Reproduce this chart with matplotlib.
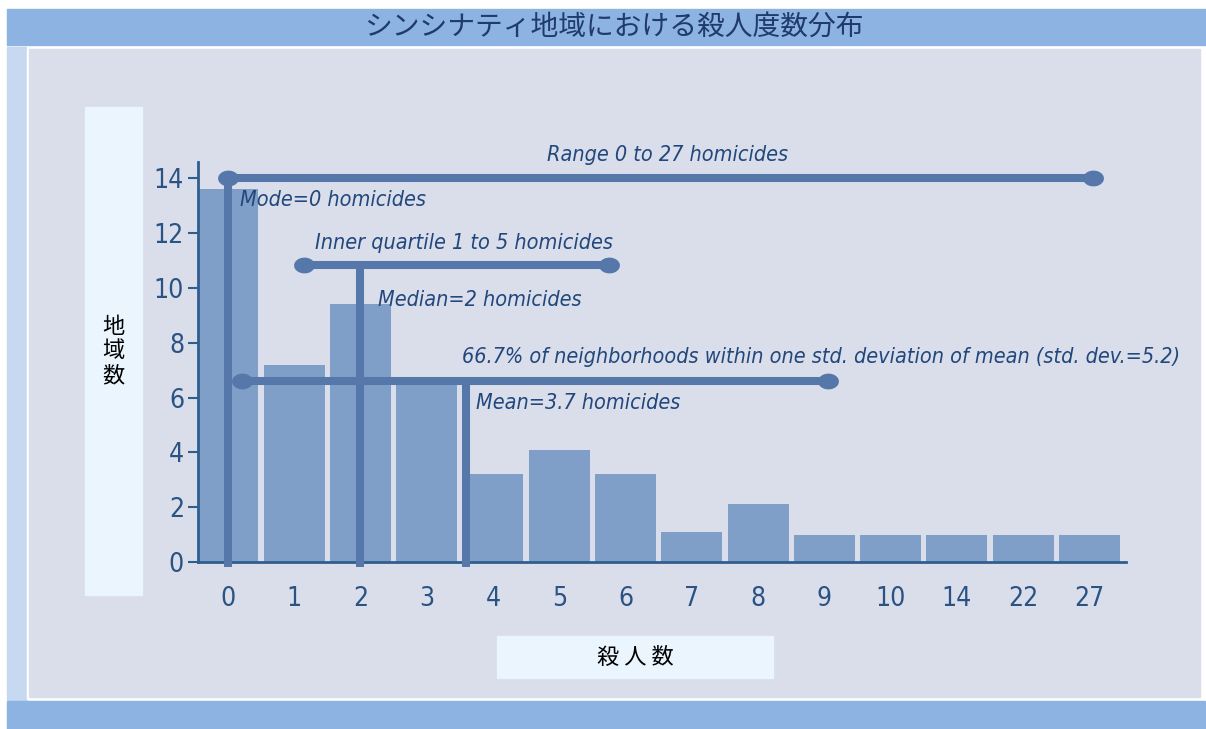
import matplotlib.pyplot as plt
import numpy as np
from matplotlib.patches import Rectangle

plt.rcParams['font.family'] = ['DejaVu Sans Condensed', 'Liberation Sans Narrow', 'DejaVu Sans']
plt.rcParams['font.stretch'] = 'condensed'

# data
homicides = ['0', '1', '2', '3', '4', '5', '6', '7', '8', '9', '10', '14', '22', '27']
neighborhoods = [13.6, 7.2, 9.4, 6.5, 3.2, 4.1, 3.2, 1.1, 2.1, 1.0, 1.0, 1.0, 1.0, 1.0]

# annotation brackets (bar-position units on x)
range_span = [0, 13.05]
range_y = 14
iqr_span = [1.15, 5.75]
iqr_y = 10.85
median_pos = 2
sd_span = [0.22, 9.05]
sd_y = 6.6
mean_pos = 3.6

title = 'シンシナティ地域における殺人度数分布'
W, H = 1206, 729
bar_col = '#809FC8'
line_col = '#5677AA'
txt_col = '#22477C'
band_col = '#8DB3E2'
cjk = ['Noto Sans CJK JP', 'DejaVu Sans']

fig = plt.figure(figsize=(W / 100, H / 100), dpi=100)


def box(x0, y0, x1, y1, color):
    fig.add_artist(Rectangle((x0 / W, 1 - y1 / H), (x1 - x0) / W, (y1 - y0) / H,
                             transform=fig.transFigure, color=color, zorder=0))


# frame pieces
box(7, 9, W, 45, band_col)
box(7, 47, 27, 700, '#C6D9F1')
box(27, 47, 1202, 699, 'white')
box(29, 49, 1200, 697, '#D9DEEA')
box(7, 701, W, H, band_col)
box(85, 107, 142, 595, '#EAF5FD')
box(497, 636, 773, 678, '#EAF5FD')

fig.text(614 / W, 1 - 27 / H, title, ha='center', va='center', fontsize=20,
         style='italic', color='#1F3B6B', family=cjk)
fig.text(113 / W, 1 - 351 / H, '地\n域\n数', ha='center', va='center',
         fontsize=16, family=cjk, linespacing=1.1)
fig.text(635 / W, 1 - 657 / H, '殺 人 数', ha='center', va='center',
         fontsize=16, family=cjk)

ax = fig.add_axes([198 / W, 1 - 562 / H, (1126 - 198) / W, (562 - 162) / H])
ax.set_facecolor('none')

x = np.arange(len(homicides))
ax.bar(x, neighborhoods, width=0.92, color=bar_col, zorder=1)

ax.set_xlim(-0.45, 13.55)
ax.set_ylim(0, 14.6)
ax.set_yticks(range(0, 15, 2))
ax.set_xticks(x)
ax.set_xticklabels(homicides)
for s in ['top', 'right']:
    ax.spines[s].set_visible(False)
for s in ['left', 'bottom']:
    ax.spines[s].set_color('#2F5E8E')
    ax.spines[s].set_linewidth(2)
ax.tick_params(axis='y', length=7, width=1.5, color='#2F5E8E', pad=3,
               labelsize=19, labelcolor='#2A5384')
ax.tick_params(axis='x', length=0, pad=17, labelsize=19, labelcolor='#2A5384')

# elliptical end dots
t = np.linspace(0, 2 * np.pi, 40)
ell = list(zip(1.35 * np.cos(t), np.sin(t)))


def bracket(span, y, stem, stem_top):
    ax.plot(span, [y, y], color=line_col, lw=5.8, solid_capstyle='butt',
            zorder=3, clip_on=False)
    ax.plot(span, [y, y], ls='none', marker=ell, ms=14, color=line_col,
            zorder=3, clip_on=False)
    ax.plot([stem, stem], [-0.2, stem_top], color=line_col, lw=5.8,
            solid_capstyle='butt', zorder=3, clip_on=False)


bracket(range_span, range_y, range_span[0], range_y)
bracket(iqr_span, iqr_y, median_pos, iqr_y)
bracket(sd_span, sd_y, mean_pos, sd_y)

kw = dict(color=txt_col, fontsize=15.5, style='italic', va='center', zorder=4)
ax.text(6.64, 14.84, 'Range 0 to 27 homicides', ha='center', **kw)
ax.text(0.18, 13.2, 'Mode=0 homicides', ha='left', **kw)
ax.text(1.31, 11.63, 'Inner quartile 1 to 5 homicides', ha='left', **kw)
ax.text(2.26, 9.55, 'Median=2 homicides', ha='left', **kw)
ax.text(3.54, 7.47, '66.7% of neighborhoods within one std. deviation of mean (std. dev.=5.2)',
        ha='left', **kw)
ax.text(3.74, 5.8, 'Mean=3.7 homicides', ha='left', **kw)

fig.savefig('out.png', dpi=100)
